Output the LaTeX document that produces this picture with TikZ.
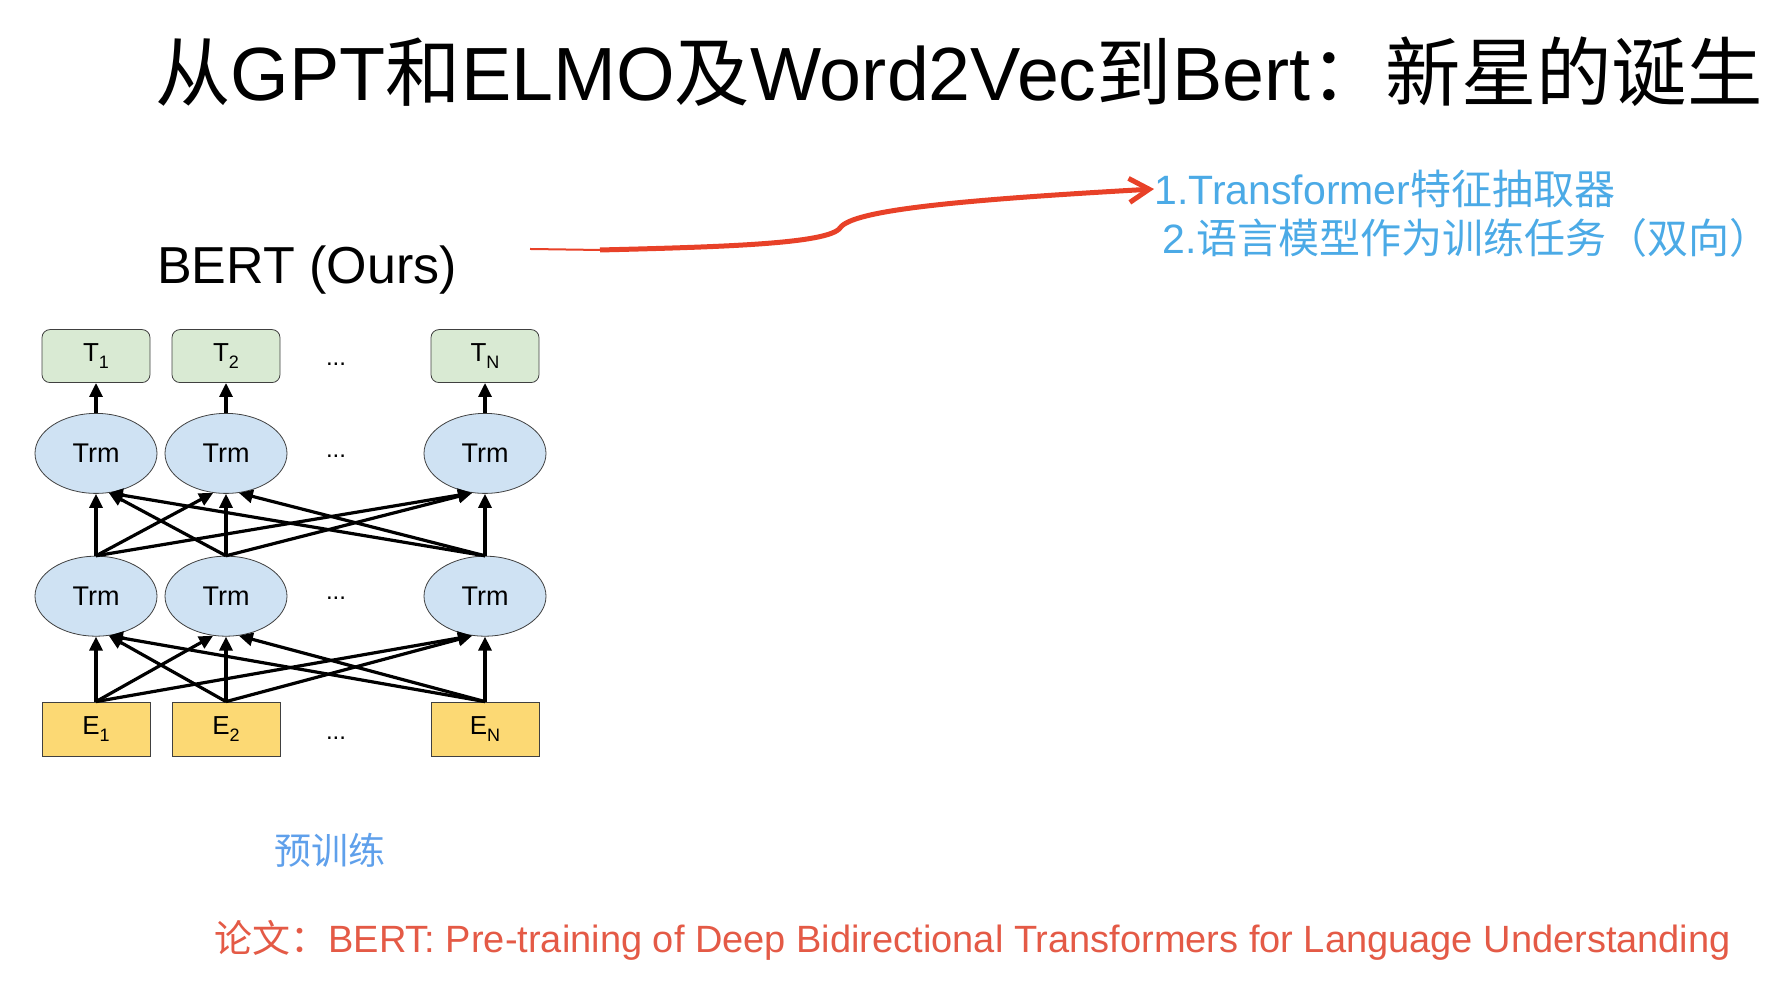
\documentclass[tikz,border=0pt]{standalone}
\usepackage{fontspec}
\setmainfont{Liberation Sans}
\newfontfamily\cjk{Noto Sans CJK SC}
\usetikzlibrary{positioning,shapes.geometric,arrows.meta}
\definecolor{outgreen}{HTML}{D9EAD3}
\definecolor{trmblue}{HTML}{CFE2F3}
\definecolor{embyellow}{HTML}{FCD974}
\definecolor{noteblue}{RGB}{75,170,230}
\definecolor{pretrainblue}{RGB}{95,160,235}
\definecolor{arrowred}{RGB}{232,65,40}
\definecolor{paperred}{RGB}{228,90,70}
\newcommand{\lowidx}[1]{\raisebox{-0.45ex}{\fontsize{9}{9}\selectfont #1}}
\tikzstyle{output} = [rectangle,
                    rounded corners=4pt,
                    minimum width=54pt,
                    minimum height=26.5pt,
                    draw=black!75,
                    fill=outgreen,
                    font=\fontsize{13}{13}\selectfont]
\tikzstyle{trm} = [ellipse,
                  minimum width=61pt,
                  minimum height=40pt,
                  draw=black!75,
                  fill=trmblue,
                  font=\fontsize{13.5}{13.5}\selectfont]
\tikzstyle{embed} = [rectangle,
                    minimum width=54pt,
                    minimum height=27pt,
                    draw=black!75,
                    fill=embyellow,
                    font=\fontsize{13}{13}\selectfont]
\tikzstyle{link} = [-{Triangle[length=7pt,width=6.5pt]},
                   line width=1.6pt]
\tikzstyle{bert} = [x=0.5pt,
                   y=0.5pt,
                   inner sep=0pt,
                   font=\fontsize{12}{12}\selectfont]

\begin{document}
\begin{tikzpicture}[bert]
    \useasboundingbox (0,0) rectangle (1786,1000);
    \node (title) at (959,928) {\fontsize{37.7}{37.7}\selectfont{\cjk 从}GPT{\cjk 和}ELMO{\cjk 及}Word2Vec{\cjk 到}Bert{\cjk ：新星的诞生}};
    \node (name) at (307,730) {\fontsize{26}{26}\selectfont BERT (Ours)};
    \node (note1) [anchor=west, text=noteblue] at (1154,811) {\fontsize{20.5}{20.5}\selectfont 1.Transformer{\cjk 特征抽取器}};
    \node (note2) [anchor=west, text=noteblue] at (1162,762) {\fontsize{20.5}{20.5}\selectfont 2.{\cjk 语言模型作为训练任务（双向）}};
    \node (stage) [text=pretrainblue] at (330,150) {\fontsize{18.5}{18.5}\selectfont\cjk 预训练};
    \node (paper) [anchor=west, text=paperred] at (214,60) {\fontsize{19}{19}\selectfont{\cjk 论文：}BERT: Pre-training of Deep Bidirectional Transformers for Language Understanding};

    \node (E1) at (96,271) [embed] {E\lowidx{1}};
    \node (E2) at (226,271) [embed] {E\lowidx{2}};
    \node (EN) at (485,271) [embed] {E\lowidx{N}};
    \node (L1) [above=32.5pt of E1] [trm] {Trm};
    \node (L2) [above=32.5pt of E2] [trm] {Trm};
    \node (LN) [above=32.5pt of EN] [trm] {Trm};
    \node (U1) [above=31pt of L1] [trm] {Trm};
    \node (U2) [above=31pt of L2] [trm] {Trm};
    \node (UN) [above=31pt of LN] [trm] {Trm};
    \node (T1) [above=15pt of U1] [output] {T\lowidx{1}};
    \node (T2) [above=15pt of U2] [output] {T\lowidx{2}};
    \node (TN) [above=15pt of UN] [output] {T\lowidx{N}};
    \node (dE) at (336,262) {...};
    \node (dL) at (336,402) {...};
    \node (dU) at (336,544) {...};
    \node (dT) at (336,636) {...};

    \path[link]
      (E1.north) edge (L1.south) (E1.north) edge (L2.-108) (E1.north) edge (LN.-108)
      (E2.north) edge (L1.-72) (E2.north) edge (L2.south) (E2.north) edge (LN.-108)
      (EN.north) edge (L1.-72) (EN.north) edge (L2.-72) (EN.north) edge (LN.south);
    \path[link]
      (L1.north) edge (U1.south) (L1.north) edge (U2.-108) (L1.north) edge (UN.-108)
      (L2.north) edge (U1.-72) (L2.north) edge (U2.south) (L2.north) edge (UN.-108)
      (LN.north) edge (U1.-72) (LN.north) edge (U2.-72) (LN.north) edge (UN.south);
    \path[link]
      (U1) edge (T1)
      (U2) edge (T2)
      (UN) edge (TN);

    \coordinate (from) at (530,751);
    \coordinate (thick) at (600,750);
    \draw[arrowred, line width=1pt] (from) -- (thick);
    \draw[arrowred, line width=2.5pt, -{Straight Barb[length=10pt,width=12pt]}]
      (thick) .. controls (720,753) and (828,756) .. (840,772)
      .. controls (852,790) and (960,800) .. (note1.west);
\end{tikzpicture}
\end{document}
